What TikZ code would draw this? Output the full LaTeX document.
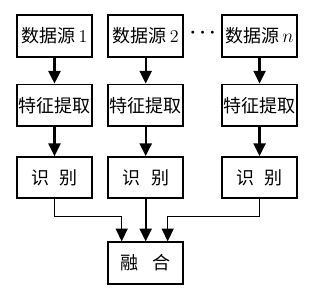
\documentclass[tikz,border=0pt]{standalone}
\usepackage{fontspec}
\newfontfamily\cjk{Noto Sans CJK SC}
\usetikzlibrary{arrows.meta, positioning, calc}

\begin{document}
\begin{tikzpicture}[
    x=0.75pt, y=0.75pt,
    box/.style={rectangle, draw=black, line width=1.4pt,
                minimum width=56pt, minimum height=31pt, inner sep=0pt,
                align=center, font=\cjk\fontsize{13.5}{15}\selectfont},
    arrow/.style={-{Triangle[length=9.5pt, width=9pt]}, line width=1.7pt},
    link/.style={-{Triangle[length=9.5pt, width=9pt]}, line width=0.8pt}
]
\useasboundingbox (0,0) rectangle (321,-292);

% data sources
\node[box] (src1) at (54.5,-36) {数据源\,{\rmfamily 1}};
\node[box, right=11pt of src1] (src2) {数据源\,{\rmfamily 2}};
\node[box, right=28pt of src2] (src3) {数据源\,$n$};
\node[font=\Large\boldmath] (dots) at ($(src2.east)!0.5!(src3.west)+(0,3)$) {$\cdots$};

% feature extraction
\node[box, below=19.5pt of src1] (fea1) {特征提取};
\node[box, below=19.5pt of src2] (fea2) {特征提取};
\node[box, below=19.5pt of src3] (fea3) {特征提取};

% recognition
\node[box, below=22pt of fea1] (rec1) {识\hspace{0.6em}别};
\node[box, below=22pt of fea2] (rec2) {识\hspace{0.6em}别};
\node[box, below=22pt of fea3] (rec3) {识\hspace{0.6em}别};

% fusion
\node[box, below=31.5pt of rec2] (fus) {融\hspace{0.8em}合};
\coordinate (inL) at ([xshift=-18pt]fus.north);
\coordinate (inR) at ([xshift=16.5pt]fus.north);

\foreach \i in {1,2,3} {
  \draw[arrow] (src\i) -- (fea\i);
  \draw[arrow] (fea\i) -- (rec\i);
}
\draw[arrow] (rec2) -- (fus);
\draw[link] (rec1.south) -- ++(0,-17) -| (inL);
\draw[link] (rec3.south) -- ++(0,-17) -| (inR);

\end{tikzpicture}
\end{document}
